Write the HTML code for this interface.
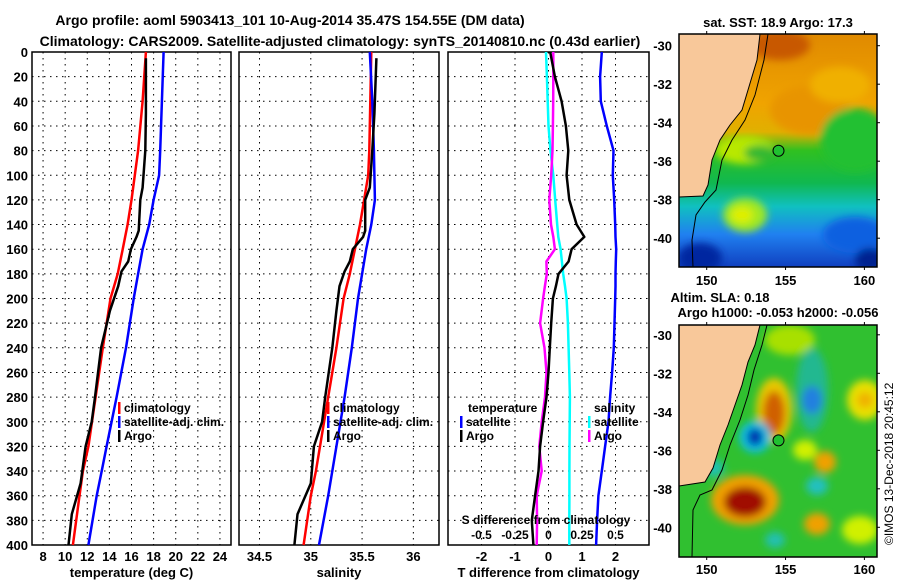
<!DOCTYPE html>
<html><head><meta charset="utf-8"><style>
body{margin:0;background:#fff;}
svg{display:block;font-family:"Liberation Sans",Arial,sans-serif;font-weight:bold;}
</style></head><body>
<svg id="chart" width="900" height="580" viewBox="0 0 900 580">
<defs>
<filter id="blur6" x="-50%" y="-50%" width="200%" height="200%"><feGaussianBlur stdDeviation="4"/></filter>
<clipPath id="clipTop"><rect x="679" y="34" width="198" height="233"/></clipPath>
<clipPath id="clipBot"><rect x="679" y="325" width="198" height="232"/></clipPath>
<linearGradient id="sstGrad" x1="0" y1="0" x2="0" y2="1">
<stop offset="0" stop-color="#e08a00"/><stop offset="0.3" stop-color="#f0a400"/>
<stop offset="0.42" stop-color="#e0b000"/><stop offset="0.5" stop-color="#30c020"/>
<stop offset="0.64" stop-color="#10b850"/><stop offset="0.74" stop-color="#10c0c0"/>
<stop offset="0.86" stop-color="#2080f0"/><stop offset="1" stop-color="#1040c0"/>
</linearGradient>
</defs>
<g id="titles">
<text x="290" y="25" text-anchor="middle" font-size="14">Argo profile: aoml 5903413_101 10-Aug-2014 35.47S 154.55E (DM data)</text>
<text x="340" y="46" text-anchor="middle" font-size="14">Climatology: CARS2009. Satellite-adjusted climatology: synTS_20140810.nc (0.43d earlier)</text>
</g>
<g id="panels"></g>
<g id="maps">
<g clip-path="url(#clipTop)">
<rect x="679" y="34" width="198" height="233" fill="url(#sstGrad)"/>
<g filter="url(#blur6)">
<ellipse cx="780" cy="45" rx="30" ry="15" fill="#c85800"/>
<ellipse cx="810" cy="110" rx="40" ry="25" fill="#e89400"/>
<ellipse cx="855" cy="140" rx="35" ry="32" fill="#20c030"/>
<ellipse cx="840" cy="85" rx="30" ry="18" fill="#f0b000"/>
<ellipse cx="745" cy="150" rx="30" ry="14" fill="#b8e800"/>
<ellipse cx="760" cy="153" rx="16" ry="8" fill="#30b830"/>
<ellipse cx="745" cy="215" rx="22" ry="17" fill="#a0e820"/>
<ellipse cx="742" cy="215" rx="11" ry="8" fill="#e0f000"/>
<ellipse cx="855" cy="235" rx="32" ry="18" fill="#1060e0"/>
<ellipse cx="700" cy="258" rx="22" ry="15" fill="#0028a0"/>
<ellipse cx="870" cy="260" rx="15" ry="12" fill="#002090"/>
</g>
<polygon points="679,34 760,34 757,60 748,90 742,110 730,125 720,140 712,160 708,185 703,196 679,197" fill="#f8c89a" stroke="#000" stroke-width="1"/>
<polyline points="768,34 764,60 755,95 745,120 732,140 722,160 716,190 705,202 696,215 692,240 693,267" fill="none" stroke="#000" stroke-width="1"/>
<circle cx="778.5" cy="150.7" r="5.5" fill="#20c030" stroke="#000" stroke-width="1"/>
</g>
<rect x="679" y="34" width="198" height="233" fill="none" stroke="#000" stroke-width="1.5"/>
<g clip-path="url(#clipBot)">
<rect x="679" y="325" width="198" height="232" fill="#30c030"/>
<g filter="url(#blur6)">
<ellipse cx="790" cy="340" rx="25" ry="15" fill="#a8e000"/>
<ellipse cx="865" cy="400" rx="18" ry="20" fill="#e8e000"/>
<ellipse cx="865" cy="400" rx="8" ry="8" fill="#f0b000"/>
<ellipse cx="774" cy="410" rx="18" ry="32" fill="#e8c800"/>
<ellipse cx="774" cy="413" rx="11" ry="22" fill="#d06000"/>
<ellipse cx="812" cy="390" rx="16" ry="42" fill="#20b890"/>
<ellipse cx="812" cy="400" rx="10" ry="14" fill="#2080e0"/>
<ellipse cx="755" cy="437" rx="16" ry="16" fill="#10c0e0"/>
<ellipse cx="755" cy="437" rx="8" ry="9" fill="#0030b0"/>
<ellipse cx="745" cy="500" rx="34" ry="25" fill="#f0a000"/>
<ellipse cx="745" cy="502" rx="21" ry="15" fill="#a01000"/>
<ellipse cx="825" cy="462" rx="11" ry="11" fill="#f0a000"/>
<ellipse cx="817" cy="524" rx="13" ry="11" fill="#f0a000"/>
<ellipse cx="817" cy="486" rx="11" ry="9" fill="#20c0c0"/>
<ellipse cx="714" cy="468" rx="10" ry="9" fill="#20c0b0"/>
<ellipse cx="805" cy="450" rx="12" ry="10" fill="#d0f000"/>
<ellipse cx="860" cy="530" rx="18" ry="14" fill="#d0f000"/>
<ellipse cx="775" cy="540" rx="10" ry="8" fill="#20c0b0"/>
</g>
<polygon points="679,325 760,325 755,345 748,362 742,385 735,405 728,425 720,445 713,468 705,482 679,486" fill="#f8c89a" stroke="#000" stroke-width="1"/>
<polyline points="767,325 762,345 754,370 748,395 740,420 730,445 722,470 712,490 700,495 693,510 692,557" fill="none" stroke="#000" stroke-width="1"/>
<circle cx="778.5" cy="440.4" r="5.5" fill="#20c030" stroke="#000" stroke-width="1"/>
</g>
<rect x="679" y="325" width="198" height="232" fill="none" stroke="#000" stroke-width="1.5"/>
<text x="778" y="27" text-anchor="middle" font-size="13">sat. SST: 18.9 Argo: 17.3</text>
<text x="720" y="302" text-anchor="middle" font-size="13">Altim. SLA: 0.18</text>
<text x="778" y="317" text-anchor="middle" font-size="13">Argo h1000: -0.053 h2000: -0.056</text>
<text transform="translate(893,545) rotate(-90)" font-size="12" font-weight="normal">©IMOS 13-Dec-2018 20:45:12</text>
</g>
<g id="mapaxes"></g>
</svg>
<script>
const NS = "http://www.w3.org/2000/svg";
const tDepth = [0,40,80,100,120,140,160,180,200,240,280,320,340,360,400];
const tClim  = [17.3,17.0,16.6,16.3,16.0,15.65,15.2,14.75,14.1,13.4,12.75,12.1,11.6,11.3,10.7];
const tSat   = [18.9,18.75,18.6,18.5,18.0,17.6,17.0,16.6,16.2,15.5,14.65,13.75,13.3,12.85,12.1];
const aDepth = [5,50,80,110,120,145,150,160,170,178,190,210,240,280,300,320,350,375,400];
const tArgo  = [17.3,17.3,17.25,17.0,16.8,16.65,16.45,15.95,15.7,15.1,14.8,14.05,13.25,12.7,12.4,11.85,11.4,10.6,10.3];
const sClim  = [35.59,35.58,35.57,35.56,35.52,35.48,35.43,35.38,35.32,35.25,35.17,35.09,35.05,35.0,34.93];
const sSat   = [35.575,35.6,35.615,35.62,35.625,35.59,35.54,35.5,35.46,35.4,35.33,35.25,35.21,35.17,35.08];
const sArgo  = [35.64,35.62,35.6,35.575,35.53,35.53,35.51,35.41,35.38,35.33,35.28,35.25,35.21,35.14,35.11,35.03,35.0,34.87,34.84];
const dDepth = [0,20,40,60,80,100,120,140,150,160,170,180,190,200,220,240,260,280,300,320,340,360,380,400];
const dTArgo = [0.05,0.19,0.39,0.52,0.59,0.54,0.62,0.84,1.07,0.69,0.6,0.3,0.22,0.13,0.08,0.04,0.0,-0.06,-0.16,-0.25,-0.3,-0.4,-0.5,-0.45];
const dTSat  = [1.59,1.54,1.56,1.74,1.94,1.92,1.96,1.99,2.0,2.02,2.01,2.0,2.0,1.99,1.97,1.95,1.9,1.84,1.79,1.69,1.59,1.49,1.45,1.42];
const dSArgo = [0.036,0.036,0.035,0.033,0.03,0.02,0.006,0.019,0.036,0.048,-0.016,-0.013,-0.027,-0.04,-0.063,-0.03,-0.015,-0.026,-0.051,-0.069,-0.051,-0.088,-0.085,-0.088];
const dSSat  = [-0.019,-0.012,-0.006,0.0,0.015,0.036,0.05,0.065,0.073,0.09,0.1,0.11,0.123,0.135,0.145,0.15,0.155,0.16,0.158,0.157,0.156,0.156,0.155,0.155];
const depthTicks = [0,20,40,60,80,100,120,140,160,180,200,220,240,260,280,300,320,340,360,380,400];
const tTicks = [8,10,12,14,16,18,20,22,24];
const sTicks = [34.5,35,35.5,36];
const dTicks = [-2,-1,0,1,2];
const dsTickLabels = ["-0.5","-0.25","0","0.25","0.5"];
const dsTicks = [-0.5,-0.25,0,0.25,0.5];

const Y0 = 52, Y1 = 545;
const yD = d => Y0 + d/400*(Y1-Y0);
function mk(tag, attrs, parent){ const e=document.createElementNS(NS,tag); for(const k in attrs) e.setAttribute(k,attrs[k]); parent.appendChild(e); return e; }
const root = document.getElementById('panels');

function panel(x0,x1,vmin,vmax,ticks,labels,title,name,showDepth){
  const g = mk('g',{},root);
  
  
  const xf = v => x0 + (v-vmin)/(vmax-vmin)*(x1-x0);
  depthTicks.forEach(d=>{ if(d>0&&d<400){ const l=mk('line',{x1:x0,x2:x1,y1:yD(d),y2:yD(d),stroke:'#000','stroke-width':1,'stroke-dasharray':'1.5,4.5'},g);
      }});
  ticks.forEach((v,i)=>{ const l=mk('line',{x1:xf(v),x2:xf(v),y1:Y0,y2:Y1,stroke:'#000','stroke-width':1,'stroke-dasharray':'1.5,4.5'},g);
     
    const t=mk('text',{x:xf(v),y:561,'text-anchor':'middle','font-size':13},g); t.textContent=labels[i];
      });
  const tt=mk('text',{x:(x0+x1)/2,y:577,'text-anchor':'middle','font-size':13},g); tt.textContent=title;
   
  if(showDepth){ depthTicks.forEach(d=>{ const t=mk('text',{x:28,y:yD(d)+5,'text-anchor':'end','font-size':13},g); t.textContent=d;
      }); }
  const fr=mk('rect',{x:x0,y:Y0,width:x1-x0,height:Y1-Y0,fill:'none',stroke:'#000','stroke-width':1.5},g);
   
  return {g,xf};
}
function series(p,xf,vals,depths,color,w,name){
  const pts = vals.map((v,i)=>xf(v).toFixed(1)+','+yD(depths[i]).toFixed(1)).join(' ');
  const l=mk('polyline',{points:pts,fill:'none',stroke:color,'stroke-width':w,'stroke-linejoin':'round'},p.g);
   
}
function legend(p,x,y,items){
  items.forEach((it,i)=>{
    const yy=y+i*14;
    if(it[0]){ const b=mk('rect',{x:x,y:yy-10,width:2.5,height:12,fill:it[0]},p.g);
        }
    const t=mk('text',{x:x+(it[0]?6:0),y:yy,'font-size':12},p.g); t.textContent=it[1];
     
  });
}
const p1 = panel(32,231,7,25,tTicks,tTicks.map(String),'temperature (deg C)','temperature-panel',true);
series(p1,p1.xf,tClim,tDepth,'#ff0000',2.5,'climatology-temperature-line');
series(p1,p1.xf,tSat,tDepth,'#0000ff',2.5,'satellite-temperature-line');
series(p1,p1.xf,tArgo,aDepth,'#000',2.5,'argo-temperature-line');
legend(p1,118,412,[['#ff0000','climatology'],['#0000ff','satellite-adj. clim.'],['#000','Argo']]);
const p2 = panel(239,439,34.3,36.25,sTicks,['34.5','35','35.5','36'],'salinity','salinity-panel',false);
series(p2,p2.xf,sClim,tDepth,'#ff0000',2.5,'climatology-salinity-line');
series(p2,p2.xf,sSat,tDepth,'#0000ff',2.5,'satellite-salinity-line');
series(p2,p2.xf,sArgo,aDepth,'#000',2.5,'argo-salinity-line');
legend(p2,327,412,[['#ff0000','climatology'],['#0000ff','satellite-adj. clim.'],['#000','Argo']]);
const p3 = panel(448,649,-3,3,dTicks,dTicks.map(String),'T difference from climatology','difference-panel',false);
const xs = v => 448 + (v+0.75)/1.5*201;
series(p3,xs,dSSat,dDepth,'#00ffff',2.5,'satellite-salinity-diff-line');
series(p3,xs,dSArgo,dDepth,'#ff00ff',2.5,'argo-salinity-diff-line');
series(p3,p3.xf,dTSat,dDepth,'#0000ff',2.5,'satellite-temperature-diff-line');
series(p3,p3.xf,dTArgo,dDepth,'#000',2.5,'argo-temperature-diff-line');
legend(p3,468,412,[[null,'temperature']]);
legend(p3,460,426,[['#0000ff','satellite'],['#000','Argo']]);
legend(p3,594,412,[[null,'salinity']]);
legend(p3,588,426,[['#00ffff','satellite'],['#ff00ff','Argo']]);
{ const t=mk('text',{x:546,y:524,'text-anchor':'middle','font-size':12},p3.g); t.textContent='S difference from climatology';
   
  dsTicks.forEach((v,i)=>{ const l=mk('text',{x:xs(v),y:539,'text-anchor':'middle','font-size':12},p3.g); l.textContent=dsTickLabels[i];
      }); }

const ma = document.getElementById('mapaxes');
const lonTicks=[150,155,160], latTicks=[-30,-32,-34,-36,-38,-40];
const lonX = lon => 706.7 + (lon-150)*15.77;
function mapAxes(topY,botY,lat30Y,labY){
  lonTicks.forEach(lo=>{
    mk('line',{x1:lonX(lo),x2:lonX(lo),y1:topY,y2:topY-3,stroke:'#000'},ma);
    mk('line',{x1:lonX(lo),x2:lonX(lo),y1:botY,y2:botY+3,stroke:'#000'},ma);
    const t=mk('text',{x:lonX(lo),y:labY,'text-anchor':'middle','font-size':13},ma); t.textContent=lo;
     
  });
  latTicks.forEach(la=>{ const y=lat30Y+(-30-la)*19.25;
    mk('line',{x1:877,x2:880,y1:y,y2:y,stroke:'#000'},ma);
    const t=mk('text',{x:672,y:y+5,'text-anchor':'end','font-size':13},ma); t.textContent=la;
     
  });
}
mapAxes(34,267,45.7,285);
mapAxes(325,557,334.8,574);
</script>
</body></html>
